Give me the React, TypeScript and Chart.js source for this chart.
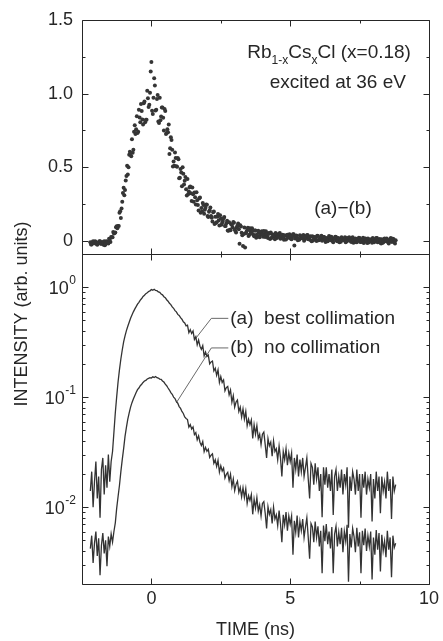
import React, { useEffect, useRef } from 'react';
import { Chart, registerables } from 'chart.js';

Chart.register(...registerables);

// ---------- data ----------
const TIME = [
  -2.20, -2.15, -2.10, -2.05, -2.00, -1.95, -1.90, -1.85, -1.80, -1.75,
  -1.70, -1.65, -1.60, -1.55, -1.50, -1.45, -1.40, -1.35, -1.30, -1.25,
  -1.20, -1.15, -1.10, -1.05, -1.00, -0.95, -0.90, -0.85, -0.80, -0.75,
  -0.70, -0.65, -0.60, -0.55, -0.50, -0.45, -0.40, -0.35, -0.30, -0.25,
  -0.20, -0.15, -0.10, -0.05, 0.00, 0.05, 0.10, 0.15, 0.20, 0.25,
  0.30, 0.35, 0.40, 0.45, 0.50, 0.55, 0.60, 0.65, 0.70, 0.75,
  0.80, 0.85, 0.90, 0.95, 1.00, 1.05, 1.10, 1.15, 1.20, 1.25,
  1.30, 1.35, 1.40, 1.45, 1.50, 1.55, 1.60, 1.65, 1.70, 1.75,
  1.80, 1.85, 1.90, 1.95, 2.00, 2.05, 2.10, 2.15, 2.20, 2.25,
  2.30, 2.35, 2.40, 2.45, 2.50, 2.55, 2.60, 2.65, 2.70, 2.75,
  2.80, 2.85, 2.90, 2.95, 3.00, 3.05, 3.10, 3.15, 3.20, 3.25,
  3.30, 3.35, 3.40, 3.45, 3.50, 3.55, 3.60, 3.65, 3.70, 3.75,
  3.80, 3.85, 3.90, 3.95, 4.00, 4.05, 4.10, 4.15, 4.20, 4.25,
  4.30, 4.35, 4.40, 4.45, 4.50, 4.55, 4.60, 4.65, 4.70, 4.75,
  4.80, 4.85, 4.90, 4.95, 5.00, 5.05, 5.10, 5.15, 5.20, 5.25,
  5.30, 5.35, 5.40, 5.45, 5.50, 5.55, 5.60, 5.65, 5.70, 5.75,
  5.80, 5.85, 5.90, 5.95, 6.00, 6.05, 6.10, 6.15, 6.20, 6.25,
  6.30, 6.35, 6.40, 6.45, 6.50, 6.55, 6.60, 6.65, 6.70, 6.75,
  6.80, 6.85, 6.90, 6.95, 7.00, 7.05, 7.10, 7.15, 7.20, 7.25,
  7.30, 7.35, 7.40, 7.45, 7.50, 7.55, 7.60, 7.65, 7.70, 7.75,
  7.80, 7.85, 7.90, 7.95, 8.00, 8.05, 8.10, 8.15, 8.20, 8.25,
  8.30, 8.35, 8.40, 8.45, 8.50, 8.55, 8.60, 8.65, 8.70, 8.75,
  8.80,
];

// (a) best collimation
const CURVE_A = [
  0.014, 0.021, 0.010, 0.017, 0.026, 0.012, 0.019, 0.008, 0.022, 0.028,
  0.013, 0.024, 0.015, 0.030, 0.017, 0.026, 0.032, 0.048, 0.072, 0.101,
  0.138, 0.178, 0.222, 0.268, 0.318, 0.360, 0.402, 0.441, 0.480, 0.522,
  0.558, 0.596, 0.631, 0.664, 0.701, 0.728, 0.762, 0.788, 0.822, 0.843,
  0.872, 0.889, 0.912, 0.925, 0.951, 0.938, 0.956, 0.932, 0.928, 0.905,
  0.897, 0.866, 0.851, 0.818, 0.802, 0.768, 0.745, 0.712, 0.694, 0.661,
  0.642, 0.611, 0.596, 0.565, 0.552, 0.527, 0.511, 0.484, 0.472, 0.445,
  0.451, 0.385, 0.410, 0.379, 0.400, 0.335, 0.354, 0.299, 0.330, 0.290,
  0.272, 0.294, 0.237, 0.257, 0.234, 0.241, 0.201, 0.209, 0.213, 0.173,
  0.183, 0.158, 0.177, 0.136, 0.154, 0.136, 0.143, 0.114, 0.122, 0.125,
  0.105, 0.116, 0.090, 0.103, 0.081, 0.090, 0.094, 0.074, 0.081, 0.066,
  0.078, 0.063, 0.074, 0.055, 0.063, 0.056, 0.062, 0.042, 0.056, 0.046,
  0.055, 0.042, 0.046, 0.037, 0.046, 0.048, 0.037, 0.028, 0.042, 0.036,
  0.039, 0.029, 0.040, 0.032, 0.034, 0.027, 0.036, 0.028, 0.019, 0.032,
  0.027, 0.034, 0.024, 0.031, 0.026, 0.031, 0.015, 0.028, 0.022, 0.030,
  0.019, 0.027, 0.021, 0.028, 0.019, 0.023, 0.028, 0.018, 0.012, 0.025,
  0.023, 0.016, 0.025, 0.018, 0.023, 0.014, 0.020, 0.0081, 0.023, 0.016,
  0.023, 0.015, 0.020, 0.014, 0.022, 0.0085, 0.019, 0.022, 0.014, 0.019,
  0.015, 0.022, 0.013, 0.020, 0.016, 0.023, 0.0065, 0.019, 0.014, 0.021,
  0.018, 0.013, 0.022, 0.014, 0.020, 0.008, 0.020, 0.015, 0.021, 0.013,
  0.018, 0.015, 0.020, 0.0074, 0.018, 0.012, 0.021, 0.014, 0.019, 0.0088,
  0.019, 0.014, 0.017, 0.012, 0.021, 0.014, 0.018, 0.0078, 0.019, 0.014,
  0.016,
];

// (b) no collimation
const CURVE_B = [
  0.0042, 0.0055, 0.0031, 0.0047, 0.0060, 0.0036, 0.0052, 0.0024, 0.0045, 0.0058,
  0.0038, 0.0050, 0.0029, 0.0054, 0.0044, 0.0057, 0.0048, 0.0060, 0.0072, 0.0098,
  0.0125, 0.0158, 0.021, 0.027, 0.034, 0.044, 0.053, 0.063, 0.072, 0.081,
  0.089, 0.096, 0.103, 0.110, 0.117, 0.121, 0.127, 0.131, 0.136, 0.140,
  0.142, 0.146, 0.148, 0.150, 0.149, 0.153, 0.151, 0.154, 0.150, 0.149,
  0.146, 0.145, 0.140, 0.137, 0.131, 0.127, 0.121, 0.116, 0.110, 0.106,
  0.100, 0.097, 0.091, 0.088, 0.082, 0.079, 0.074, 0.071, 0.066, 0.064,
  0.0625, 0.0534, 0.0562, 0.0513, 0.0535, 0.0456, 0.0476, 0.0409, 0.0444, 0.0389,
  0.0363, 0.0395, 0.0319, 0.0349, 0.0322, 0.0336, 0.0283, 0.0296, 0.0305, 0.0250,
  0.0269, 0.0234, 0.0266, 0.0208, 0.0238, 0.0213, 0.0227, 0.0184, 0.0199, 0.0207,
  0.0174, 0.0199, 0.0154, 0.0180, 0.0141, 0.0161, 0.0172, 0.0136, 0.0151, 0.0124,
  0.0150, 0.0122, 0.0147, 0.0108, 0.0127, 0.0115, 0.0130, 0.0086, 0.0118, 0.0098,
  0.0122, 0.0092, 0.0105, 0.0083, 0.0108, 0.0112, 0.0088, 0.0064, 0.0101, 0.0086,
  0.0095, 0.0071, 0.0100, 0.0078, 0.0085, 0.0068, 0.0093, 0.0071, 0.0048, 0.0085,
  0.0069, 0.0090, 0.0061, 0.0083, 0.0070, 0.0083, 0.0037, 0.0075, 0.0059, 0.0084,
  0.0053, 0.0074, 0.0061, 0.0078, 0.0053, 0.0066, 0.0080, 0.0053, 0.0034, 0.0071,
  0.0066, 0.0048, 0.0074, 0.0053, 0.0067, 0.0044, 0.0061, 0.0025, 0.0068, 0.0049,
  0.0070, 0.0046, 0.0060, 0.0042, 0.0066, 0.0025, 0.0057, 0.0067, 0.0044, 0.0059,
  0.0046, 0.0065, 0.0039, 0.0060, 0.0049, 0.0069, 0.0021, 0.0057, 0.0043, 0.0064,
  0.0054, 0.0039, 0.0065, 0.0044, 0.0059, 0.0025, 0.0061, 0.0045, 0.0064, 0.0040,
  0.0055, 0.0044, 0.0060, 0.0022, 0.0053, 0.0037, 0.0062, 0.0041, 0.0058, 0.0026,
  0.0056, 0.0040, 0.0049, 0.0035, 0.0061, 0.0041, 0.0053, 0.0023, 0.0055, 0.0043,
  0.0047,
];

// (a) - (b), upper panel, channels on the TIME grid
const DIFF_AB = [
  -0.011, -0.025, -0.003, -0.017, -0.008, -0.027, -0.014, -0.004, -0.021, -0.016,
  -0.004, -0.022, -0.007, -0.019, 0.006, 0.026, 0.024, 0.050, 0.056, 0.098,
  0.100, 0.190, 0.155, 0.265, 0.360, 0.345, 0.440, 0.450, 0.585, 0.595,
  0.690, 0.618, 0.784, 0.758, 0.732, 0.890, 0.806, 0.882, 0.790, 0.946,
  0.823, 1.019, 0.908, 1.006, 1.214, 0.862, 1.104, 0.885, 0.963, 0.810,
  0.972, 0.844, 0.905, 0.749, 0.881, 0.733, 0.738, 0.590, 0.704, 0.619,
  0.538, 0.599, 0.506, 0.563, 0.424, 0.488, 0.370, 0.455, 0.407, 0.350,
  0.420, 0.334, 0.368, 0.270, 0.316, 0.328, 0.247, 0.276, 0.205, 0.294,
  0.222, 0.257, 0.184, 0.224, 0.245, 0.161, 0.208, 0.169, 0.130, 0.198,
  0.163, 0.126, 0.181, 0.104, 0.151, 0.122, 0.153, 0.100, 0.119, 0.070,
  0.126, 0.072, 0.108, 0.128, 0.076, 0.056, 0.102, 0.078, 0.106, 0.054,
  -0.035, 0.090, 0.051, 0.072, 0.033, 0.085, 0.050, 0.066, 0.031, 0.069,
  0.043, 0.068, 0.024, 0.057, 0.040, 0.066, 0.025, 0.044, 0.018, 0.047,
  0.056, 0.024, 0.036, 0.011, 0.045, 0.027, 0.048, 0.014, 0.035, 0.019,
  0.037, 0.009, 0.040, 0.020, 0.029, 0.011, 0.044, -0.032, 0.031, 0.021,
  0.010, 0.038, 0.017, 0.031, 0.000, 0.026, 0.037, 0.011, 0.020, 0.002,
  0.031, 0.011, 0.024, -0.002, 0.033, 0.005, 0.016, 0.000, 0.025, 0.009,
  0.019, -0.004, 0.032, 0.003, 0.023, -0.010, 0.014, 0.025, -0.003, 0.016,
  -0.001, 0.024, 0.005, 0.016, -0.010, 0.019, 0.001, 0.009, -0.008, 0.023,
  0.001, 0.015, -0.010, 0.009, 0.019, -0.008, 0.005, -0.015, 0.015, -0.005,
  0.016, -0.003, 0.009, -0.014, 0.012, -0.001, 0.019, -0.010, 0.005, -0.013,
  0.010, -0.012, 0.016, -0.004, 0.005, -0.018, 0.011, -0.007, 0.014, -0.009,
  0.004,
];

// in-between channels of the upper panel
const TIME_MID = [
  -2.175, -2.125, -2.075, -2.025, -1.975, -1.925, -1.875, -1.825, -1.775, -1.725,
  -1.675, -1.625, -1.575, -1.525, -1.475, -1.425, -1.375, -1.325, -1.275, -1.225,
  -1.175, -1.125, -1.075, -1.025, -0.975, -0.925, -0.875, -0.825, -0.775, -0.725,
  -0.675, -0.625, -0.575, -0.525, -0.475, -0.425, -0.375, -0.325, -0.275, -0.225,
  -0.175, -0.125, -0.075, -0.025, 0.025, 0.075, 0.125, 0.175, 0.225, 0.275,
  0.325, 0.375, 0.425, 0.475, 0.525, 0.575, 0.625, 0.675, 0.725, 0.775,
  0.825, 0.875, 0.925, 0.975, 1.025, 1.075, 1.125, 1.175, 1.225, 1.275,
  1.325, 1.375, 1.425, 1.475, 1.525, 1.575, 1.625, 1.675, 1.725, 1.775,
  1.825, 1.875, 1.925, 1.975, 2.025, 2.075, 2.125, 2.175, 2.225, 2.275,
  2.325, 2.375, 2.425, 2.475, 2.525, 2.575, 2.625, 2.675, 2.725, 2.775,
  2.825, 2.875, 2.925, 2.975, 3.025, 3.075, 3.125, 3.175, 3.225, 3.275,
  3.325, 3.375, 3.425, 3.475, 3.525, 3.575, 3.625, 3.675, 3.725, 3.775,
  3.825, 3.875, 3.925, 3.975, 4.025, 4.075, 4.125, 4.175, 4.225, 4.275,
  4.325, 4.375, 4.425, 4.475, 4.525, 4.575, 4.625, 4.675, 4.725, 4.775,
  4.825, 4.875, 4.925, 4.975, 5.025, 5.075, 5.125, 5.175, 5.225, 5.275,
  5.325, 5.375, 5.425, 5.475, 5.525, 5.575, 5.625, 5.675, 5.725, 5.775,
  5.825, 5.875, 5.925, 5.975, 6.025, 6.075, 6.125, 6.175, 6.225, 6.275,
  6.325, 6.375, 6.425, 6.475, 6.525, 6.575, 6.625, 6.675, 6.725, 6.775,
  6.825, 6.875, 6.925, 6.975, 7.025, 7.075, 7.125, 7.175, 7.225, 7.275,
  7.325, 7.375, 7.425, 7.475, 7.525, 7.575, 7.625, 7.675, 7.725, 7.775,
  7.825, 7.875, 7.925, 7.975, 8.025, 8.075, 8.125, 8.175, 8.225, 8.275,
  8.325, 8.375, 8.425, 8.475, 8.525, 8.575, 8.625, 8.675, 8.725, 8.775,
];

const DIFF_AB_MID = [
  -0.025, -0.010, -0.016, -0.004, -0.022, -0.013, -0.003, -0.020, -0.008, -0.027,
  -0.030, -0.004, -0.010, 0.014, -0.008, 0.024, 0.060, 0.052, 0.092, 0.085,
  0.100, 0.200, 0.220, 0.325, 0.310, 0.410, 0.510, 0.500, 0.605, 0.575,
  0.598, 0.741, 0.726, 0.846, 0.741, 0.838, 0.930, 0.824, 0.934, 0.805,
  0.822, 0.969, 0.924, 1.150, 0.884, 0.972, 1.055, 0.891, 0.991, 0.800,
  0.818, 0.906, 0.836, 0.896, 0.726, 0.758, 0.790, 0.629, 0.684, 0.505,
  0.509, 0.563, 0.503, 0.553, 0.428, 0.464, 0.500, 0.382, 0.434, 0.308,
  0.316, 0.364, 0.323, 0.362, 0.265, 0.296, 0.330, 0.243, 0.288, 0.190,
  0.199, 0.243, 0.211, 0.246, 0.169, 0.197, 0.226, 0.156, 0.193, 0.113,
  0.120, 0.163, 0.138, 0.173, 0.108, 0.135, 0.162, 0.101, 0.136, 0.068,
  0.074, 0.112, 0.092, 0.123, 0.067, 0.092, 0.117, -0.020, 0.097, 0.038,
  0.046, -0.045, 0.061, 0.088, 0.041, 0.063, 0.085, 0.041, 0.069, 0.020,
  0.029, 0.057, 0.043, 0.065, 0.027, 0.046, 0.065, 0.029, 0.053, 0.012,
  0.018, 0.043, 0.031, 0.052, 0.018, 0.035, 0.052, 0.020, 0.041, 0.006,
  0.011, 0.035, 0.024, 0.044, 0.013, 0.029, 0.044, 0.016, 0.035, 0.003,
  0.006, 0.030, 0.019, 0.039, 0.008, 0.024, 0.039, 0.011, 0.030, -0.003,
  0.001, 0.025, 0.014, 0.034, 0.003, 0.019, 0.034, 0.006, 0.025, -0.008,
  -0.002, 0.019, 0.010, 0.027, 0.000, 0.014, 0.028, 0.002, 0.019, -0.010,
  -0.006, 0.015, 0.005, 0.023, -0.005, 0.010, 0.024, -0.002, 0.016, -0.013,
  -0.010, 0.011, 0.002, 0.020, -0.008, 0.007, 0.021, -0.005, 0.013, -0.016,
  -0.012, 0.009, 0.000, 0.018, -0.010, 0.005, 0.019, -0.006, 0.012, -0.018,
  -0.014, 0.008, -0.002, 0.016, -0.011, 0.004, 0.018, -0.007, 0.011, -0.018,
];

// leader lines from the labels to the curves
const LEADER_A_X = [1.55, 2.16, 2.77];
const LEADER_A_Y = [0.33, 0.52, 0.52];
const LEADER_B_X = [0.9, 2.16, 2.77];
const LEADER_B_Y = [0.089, 0.28, 0.28];

// axis ticks
const X_MAJOR_TICKS = [0, 5, 10];
const X_MINOR_TICKS = [2.5, 7.5];
const TOP_TICKS = [0, 0.5, 1.0, 1.5];
const TOP_MINOR_TICKS = [0.25, 0.75, 1.25];
const LOG_TICKS = [0.01, 0.1, 1];
const LOG_EXPONENTS = ['-2', '-1', '0'];
const LOG_MINOR_TICKS = [
  0.002, 0.003, 0.004, 0.005, 0.006, 0.007, 0.008, 0.009,
  0.02, 0.03, 0.04, 0.05, 0.06, 0.07, 0.08, 0.09,
  0.2, 0.3, 0.4, 0.5, 0.6, 0.7, 0.8, 0.9, 2,
];

// texts
const X_TITLE = 'TIME (ns)';
const Y_TITLE = 'INTENSITY (arb. units)';
const LABEL_A = '(a)  best collimation';
const LABEL_B = '(b)  no collimation';
const LABEL_DIFF = '(a)\u2212(b)';
const SAMPLE_PARTS: [string, boolean][] = [
  ['Rb', false], ['1-x', true], ['Cs', false], ['x', true], ['Cl (x=0.18)', false],
];
const EXCITATION = 'excited at 36 eV';

// ---------- style ----------
const FONT = '"Liberation Sans", Arial, Helvetica, sans-serif';
const INK = '#262626';
const CURVE_COLOR = '#333333';
const DOT_COLOR = '#353535';

const crisp = (v: number) => Math.round(v) + 0.5;

const framePlugin = {
  id: 'framePlugin',
  afterDatasetsDraw(chart: any) {
    const { ctx, chartArea: a, scales } = chart;
    const sx = scales.x, st = scales.yTop, sb = scales.yBot;
    const L = crisp(a.left), R = crisp(a.right), T = crisp(a.top), B = crisp(a.bottom);
    const M = crisp(st.bottom);
    ctx.save();
    ctx.strokeStyle = INK;
    ctx.lineWidth = 1;
    ctx.beginPath();
    ctx.rect(L, T, R - L, B - T);
    ctx.moveTo(L, M);
    ctx.lineTo(R, M);
    const seg = (x1: number, y1: number, x2: number, y2: number) => {
      ctx.moveTo(x1, y1);
      ctx.lineTo(x2, y2);
    };
    const xt = (vals: number[], len: number) =>
      vals.forEach((v) => {
        const p = crisp(sx.getPixelForValue(v));
        seg(p, T, p, T + len);
        seg(p, M - len, p, M + len);
        seg(p, B, p, B - len);
      });
    xt(X_MAJOR_TICKS, 6);
    xt(X_MINOR_TICKS, 3);
    const yt = (scale: any, vals: number[], len: number) =>
      vals.forEach((v) => {
        const p = crisp(scale.getPixelForValue(v));
        seg(L, p, L + len, p);
        seg(R, p, R - len, p);
      });
    yt(st, TOP_TICKS, 6);
    yt(st, TOP_MINOR_TICKS, 3);
    yt(sb, LOG_TICKS, 6);
    yt(sb, LOG_MINOR_TICKS, 3);
    ctx.stroke();
    ctx.restore();
  },
  afterDraw(chart: any) {
    const { ctx, chartArea: a, scales } = chart;
    const sx = scales.x, st = scales.yTop, sb = scales.yBot;
    ctx.save();
    ctx.fillStyle = INK;
    ctx.textBaseline = 'middle';

    // log tick labels 10^n
    LOG_TICKS.forEach((v, i) => {
      const y = sb.getPixelForValue(v);
      const xr = a.left - 6;
      ctx.textAlign = 'right';
      ctx.font = `12px ${FONT}`;
      const ew = ctx.measureText(LOG_EXPONENTS[i]).width;
      ctx.fillText(LOG_EXPONENTS[i], xr, y - 6);
      ctx.font = `18px ${FONT}`;
      ctx.fillText('10', xr - ew - 0.5, y + 2);
    });

    // y title
    ctx.save();
    ctx.translate(22, 314);
    ctx.rotate(-Math.PI / 2);
    ctx.textAlign = 'center';
    ctx.font = `18px ${FONT}`;
    ctx.fillText(Y_TITLE, 0, 0);
    ctx.restore();

    // upper panel annotations
    const big = `19px ${FONT}`, small = `12px ${FONT}`;
    ctx.font = big;
    ctx.textAlign = 'center';
    ctx.fillText(LABEL_DIFF, sx.getPixelForValue(6.9), st.getPixelForValue(0.22));

    ctx.textAlign = 'right';
    ctx.fillText(EXCITATION, sx.getPixelForValue(9.17), st.getPixelForValue(1.075));

    // sample formula with subscripts
    let total = 0;
    SAMPLE_PARTS.forEach(([s, sub]) => {
      ctx.font = sub ? small : big;
      total += ctx.measureText(s).width;
    });
    let x = sx.getPixelForValue(9.35) - total;
    const yF = st.getPixelForValue(1.28);
    ctx.textAlign = 'left';
    SAMPLE_PARTS.forEach(([s, sub]) => {
      ctx.font = sub ? small : big;
      ctx.fillText(s, x, sub ? yF + 8 : yF);
      x += ctx.measureText(s).width;
    });

    // lower panel labels
    ctx.font = big;
    ctx.textAlign = 'left';
    ctx.fillText(LABEL_A, sx.getPixelForValue(2.77) + 2, sb.getPixelForValue(LEADER_A_Y[2]));
    ctx.fillText(LABEL_B, sx.getPixelForValue(2.77) + 2, sb.getPixelForValue(LEADER_B_Y[2]));
    ctx.restore();
  },
};

export default function App() {
  const ref = useRef<HTMLCanvasElement | null>(null);

  useEffect(() => {
    if (!ref.current) return;
    Chart.defaults.font.family = FONT;
    Chart.defaults.color = INK;
    const pts = (xs: number[], ys: number[]) => xs.map((t, i) => ({ x: t, y: ys[i] }));
    const noGrid = { display: false, drawTicks: false, tickLength: 0 };
    const dots = {
      yAxisID: 'yTop',
      showLine: false,
      pointRadius: 2,
      pointBorderWidth: 0,
      pointBackgroundColor: DOT_COLOR,
      borderColor: DOT_COLOR,
    };
    const curve = {
      yAxisID: 'yBot',
      borderColor: CURVE_COLOR,
      borderWidth: 1.3,
      pointRadius: 0,
      tension: 0,
    };
    const leader = {
      yAxisID: 'yBot',
      borderColor: '#444',
      borderWidth: 0.8,
      pointRadius: 0,
      tension: 0,
    };

    const chart = new Chart(ref.current, {
      type: 'line',
      data: {
        datasets: [
          { label: LABEL_DIFF, data: pts(TIME, DIFF_AB), ...dots },
          { label: LABEL_DIFF + ' mid', data: pts(TIME_MID, DIFF_AB_MID), ...dots },
          { label: LABEL_A, data: pts(TIME, CURVE_A), ...curve },
          { label: LABEL_B, data: pts(TIME, CURVE_B), ...curve },
          { label: 'leader a', data: pts(LEADER_A_X, LEADER_A_Y), ...leader },
          { label: 'leader b', data: pts(LEADER_B_X, LEADER_B_Y), ...leader },
        ],
      },
      options: {
        responsive: false,
        animation: false,
        events: [],
        layout: { padding: { top: 20, right: 13, left: 0, bottom: 0 } },
        plugins: { legend: { display: false }, tooltip: { enabled: false } },
        scales: {
          x: {
            type: 'linear',
            position: 'bottom',
            min: -2.5,
            max: 10,
            grid: noGrid,
            border: { display: false },
            afterBuildTicks: (s: any) => {
              s.ticks = X_MAJOR_TICKS.map((v) => ({ value: v }));
            },
            afterFit: (s: any) => {
              s.height = 57;
            },
            ticks: {
              autoSkip: false,
              maxRotation: 0,
              padding: 4,
              color: INK,
              font: { size: 18, family: FONT },
              callback: (v: any) => String(v),
            },
            title: {
              display: true,
              text: X_TITLE,
              color: INK,
              font: { size: 18, family: FONT },
              padding: { top: 0, bottom: 0 },
            },
          },
          yBot: {
            type: 'logarithmic',
            position: 'left',
            stack: 'panels',
            stackWeight: 330,
            min: 0.002,
            max: 2,
            grid: noGrid,
            border: { display: false },
            afterBuildTicks: (s: any) => {
              s.ticks = LOG_TICKS.map((v) => ({ value: v }));
            },
            afterFit: (s: any) => {
              s.width = 82;
            },
            ticks: { display: false },
          },
          yTop: {
            type: 'linear',
            position: 'left',
            stack: 'panels',
            stackWeight: 234,
            min: -0.09,
            max: 1.5,
            grid: noGrid,
            border: { display: false },
            afterBuildTicks: (s: any) => {
              s.ticks = TOP_TICKS.map((v) => ({ value: v }));
            },
            afterFit: (s: any) => {
              s.width = 82;
            },
            ticks: {
              padding: 9,
              color: INK,
              font: { size: 18, family: FONT },
              callback: (v: any) => (Number(v) === 0 ? '0' : Number(v).toFixed(1)),
            },
          },
        },
      } as any,
      plugins: [framePlugin],
    });
    return () => chart.destroy();
  }, []);

  return (
    <div style={{ position: 'fixed', left: 0, top: 0, width: 443, height: 641, background: '#fff' }}>
      <canvas ref={ref} width={443} height={641} style={{ display: 'block' }} />
    </div>
  );
}
